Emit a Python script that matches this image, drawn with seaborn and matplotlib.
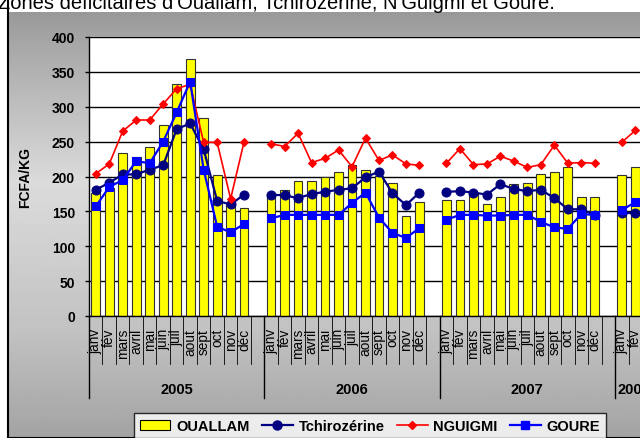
import numpy as np
import pandas as pd
import seaborn as sns
import matplotlib.pyplot as plt
from matplotlib.patches import Patch, Rectangle
from matplotlib.lines import Line2D
import matplotlib.transforms as mtransforms

# month labels and years
months = ['janv', 'fév', 'mars', 'avril', 'mai', 'juin', 'juil', 'aout', 'sept', 'oct', 'nov', 'déc']
years = ['2005', '2006', '2007', '2008']

# prices (FCFA/kg), 2005-2007 full years + janv/fév 2008
ouallam = [176, 183, 233, 228, 243, 274, 332, 369, 284, 202, 162, 155,
           173, 181, 194, 194, 200, 207, 217, 210, 201, 191, 144, 163,
           167, 167, 175, 161, 170, 189, 191, 204, 207, 214, 170, 170,
           202, 213]
tchiro = [181, 191, 203, 203, 210, 216, 268, 276, 239, 165, 160, 174,
          174, 173, 169, 175, 178, 181, 183, 199, 207, 176, 159, 177,
          178, 179, 177, 174, 189, 182, 179, 181, 169, 153, 153, 145,
          148, 148]
nguigmi = [204, 218, 265, 281, 281, 304, 326, 332, 249, 249, 168, 250,
           247, 243, 262, 220, 226, 238, 214, 255, 223, 231, 218, 216,
           219, 240, 217, 218, 229, 222, 213, 217, 245, 219, 220, 219,
           249, 266]
goure = [157, 185, 195, 222, 219, 250, 292, 336, 210, 128, 120, 132,
         140, 145, 145, 145, 145, 145, 162, 177, 141, 119, 112, 126,
         138, 145, 145, 144, 144, 145, 145, 135, 127, 125, 146, 145,
         152, 163]

# slot positions: one empty slot after each year
pos, yr, mon = [], [], []
for i, y in enumerate(years):
    n = 12 if y != '2008' else 2
    for m in range(n):
        pos.append(i * 13 + m)
        yr.append(y)
        mon.append(months[m])

df = pd.DataFrame({'pos': pos, 'year': yr, 'month': mon,
                   'OUALLAM': ouallam, 'Tchirozérine': tchiro,
                   'NGUIGMI': nguigmi, 'GOURE': goure})

W, H = 640, 439
fig = plt.figure(figsize=(W / 100, H / 100), dpi=100)

# grey gradient frame
bg = fig.add_axes([8 / W, 0, 1 - 8 / W, 1 - 13 / H])
bg.set_zorder(-10)
stops_y = [0, 0.08, 0.4, 0.75, 1.0]
stops_c = [0.60, 0.66, 0.86, 0.76, 0.64]
yy = np.linspace(0, 1, 200)
grad = np.interp(yy, stops_y, stops_c)[:, None]
bg.imshow(np.repeat(grad, 2, axis=1), cmap='gray', vmin=0, vmax=1,
          aspect='auto', extent=[0, 1, 1, 0])
bg.set_xlim(0, 1)
bg.set_ylim(1, 0)
bg.axis('off')
bg.add_patch(Rectangle((0, 0), 1.2, 1.2, fill=False, edgecolor='black',
                       linewidth=1.5, transform=bg.transAxes, clip_on=False))

ax = fig.add_axes([89 / W, 1 - 317 / H, 553 / W, 279 / H])
ax.set_facecolor('white')

sns.barplot(data=df, x='pos', y='OUALLAM', native_scale=True, width=0.65,
            color='#ffff00', saturation=1, edgecolor='#333333', linewidth=0.8,
            ax=ax, zorder=2)

line_styles = [('Tchirozérine', '#000080', 'o', 6.5, 1.6),
               ('NGUIGMI', '#ff0000', 'D', 4, 1.2),
               ('GOURE', '#0000ff', 's', 5.5, 1.6)]
for name, col, mk, ms, lw in line_styles:
    sns.lineplot(data=df, x='pos', y=name, units='year', estimator=None,
                 color=col, marker=mk, markersize=ms, markeredgecolor=col,
                 linewidth=lw, ax=ax, zorder=3, legend=False)

ax.set_xlim(-0.5, 40.5)
ax.set_ylim(0, 400)
ax.set_yticks(range(0, 401, 50))
ax.yaxis.grid(True, color='black', linewidth=1)
ax.set_axisbelow(True)
ax.set_xticks([])
ax.set_xlabel('')
ax.tick_params(axis='y', length=3, width=1, pad=7, labelsize=10)
for t in ax.get_yticklabels():
    t.set_fontweight('bold')
    t.set_fontfamily('Liberation Sans')
ax.set_ylabel('FCFA/KG', fontsize=10, fontweight='bold', family='Liberation Sans')
ax.yaxis.set_label_coords(-0.103, 0.5)
for s in ['top', 'right']:
    ax.spines[s].set_visible(False)
ax.spines['left'].set_linewidth(1)
ax.spines['bottom'].set_linewidth(1)

# category axis: months, separators, years
trans = mtransforms.blended_transform_factory(ax.transData, ax.transAxes)
for p, m in zip(df['pos'], df['month']):
    ax.text(p, -0.043, m, rotation=90, ha='center', va='top', fontsize=9.8,
            family='Liberation Sans', transform=trans, clip_on=False)
for k in range(42):
    x = k - 0.5
    long_line = k % 13 == 0
    ax.plot([x, x], [0, -0.294 if long_line else -0.172], color='black',
            linewidth=1 if long_line else 0.6, transform=trans, clip_on=False)
for x, y in zip([6, 19, 32, 39.9], years):
    ax.text(x, -0.262, y, ha='center', va='center', fontsize=10.5,
            fontweight='bold', family='Liberation Sans', transform=trans,
            clip_on=False)

handles = [Patch(facecolor='#ffff00', edgecolor='black', linewidth=0.8)]
for name, col, mk, ms, lw in line_styles:
    handles.append(Line2D([], [], color=col, marker=mk, markersize=ms,
                          markeredgecolor=col, linewidth=lw))
leg = fig.legend(handles, ['OUALLAM', 'Tchirozérine', 'NGUIGMI', 'GOURE'],
                 loc='upper left', bbox_to_anchor=(134 / W, 1 - 414 / H),
                 ncol=4, frameon=True, fancybox=False, edgecolor='black',
                 prop={'family': 'Liberation Sans', 'weight': 'bold', 'size': 10.5},
                 handlelength=2.1, handletextpad=0.4, columnspacing=0.85,
                 borderpad=0.4, borderaxespad=0)
leg.get_frame().set_linewidth(1)
leg.get_frame().set_facecolor('white')

fig.text(555 / W, 1 - 9 / H,
         "Zones déficitaires d'Ouallam, Tchirozérine, N'Guigmi et Gouré.",
         ha='right', va='baseline', fontsize=14.5, family='Liberation Sans')

fig.savefig('out.png', dpi=100)
